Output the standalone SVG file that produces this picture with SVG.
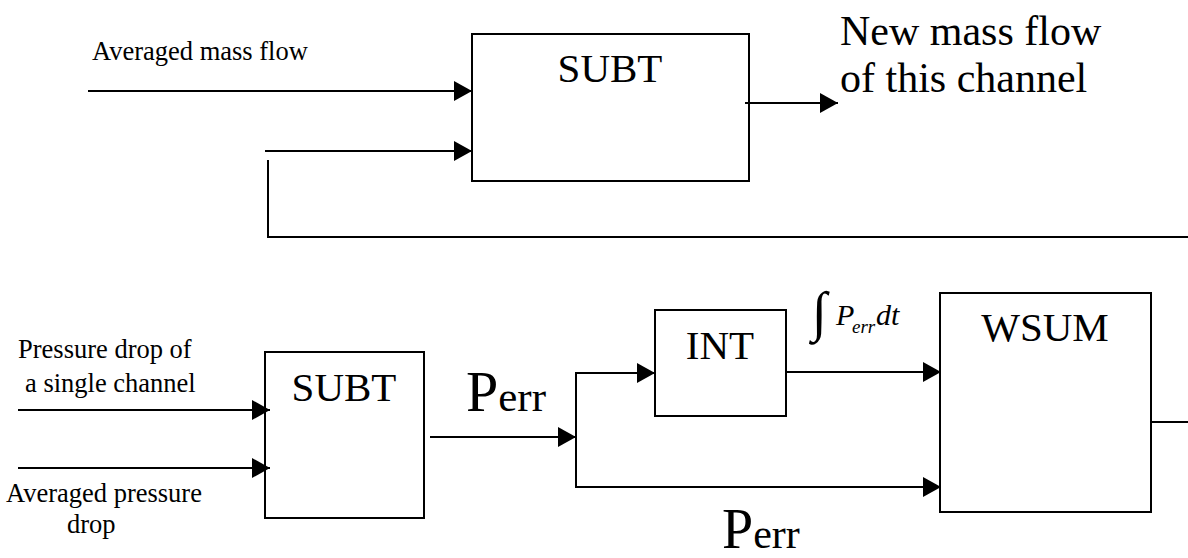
<svg xmlns="http://www.w3.org/2000/svg" width="1188" height="558" viewBox="0 0 1188 558">
  <style>
    .box { fill: #ffffff; stroke: #000000; stroke-width: 2; }
    .wire { fill: none; stroke: #000000; stroke-width: 2; }
    text { font-family: 'Liberation Serif', 'DejaVu Serif', serif; fill: #000000; }
    .small { font-size: 26.5px; }
    .big { font-size: 42px; }
    .block { font-size: 41px; text-anchor: middle; }
    .it { font-style: italic; }
  </style>
  <defs>
    <marker id="arrow" markerUnits="userSpaceOnUse" markerWidth="19" markerHeight="20" refX="18" refY="10" orient="auto">
      <path d="M0,0 L18,10 L0,20 Z" fill="#000000"/>
    </marker>
  </defs>

  <rect width="1188" height="558" fill="#ffffff"/>

  <!-- mass flow correction loop -->
  <g id="subt-mass">
    <rect class="box" x="472" y="34" width="277" height="147"/>
    <text class="block" x="610" y="82">SUBT</text>
  </g>

  <!-- pressure drop comparison -->
  <g id="subt-pressure">
    <rect class="box" x="265" y="352" width="159" height="166"/>
    <text class="block" x="344" y="401">SUBT</text>
  </g>

  <g id="int">
    <rect class="box" x="655" y="310" width="131" height="106"/>
    <text class="block" x="720" y="359">INT</text>
  </g>

  <g id="wsum">
    <rect class="box" x="940" y="293" width="211" height="219"/>
    <text class="block" x="1045" y="341">WSUM</text>
  </g>

  <g id="connectors">
    <!-- top: inputs and output of the mass-flow SUBT -->
    <line class="wire" x1="88" y1="91" x2="472" y2="91" marker-end="url(#arrow)"/>
    <line class="wire" x1="265" y1="151" x2="472" y2="151" marker-end="url(#arrow)"/>
    <polyline class="wire" points="268,160 268,237 1188,237"/>
    <line class="wire" x1="745" y1="103" x2="838" y2="103" marker-end="url(#arrow)"/>

    <!-- bottom: pressure inputs -->
    <line class="wire" x1="18" y1="410" x2="270" y2="410" marker-end="url(#arrow)"/>
    <line class="wire" x1="18" y1="468" x2="270" y2="468" marker-end="url(#arrow)"/>

    <!-- error signal and branches -->
    <line class="wire" x1="430" y1="437" x2="576" y2="437" marker-end="url(#arrow)"/>
    <line class="wire" x1="576" y1="372" x2="576" y2="487"/>
    <line class="wire" x1="575" y1="373" x2="655" y2="373" marker-end="url(#arrow)"/>
    <line class="wire" x1="575" y1="487" x2="941" y2="487" marker-end="url(#arrow)"/>
    <line class="wire" x1="786" y1="372" x2="941" y2="372" marker-end="url(#arrow)"/>
    <line class="wire" x1="1151" y1="422" x2="1188" y2="422"/>
  </g>

  <g id="labels">
    <text class="small" x="92" y="60">Averaged mass flow</text>
    <text class="big" x="840" y="45">New mass flow</text>
    <text class="big" x="840" y="92">of this channel</text>

    <text class="small" x="18" y="358">Pressure drop of</text>
    <text class="small" x="25" y="392">a single channel</text>
    <text class="small" x="6" y="502">Averaged pressure</text>
    <text class="small" x="67" y="533">drop</text>

    <text x="466" y="411" font-size="58">P<tspan font-size="43">err</tspan></text>
    <text x="722" y="548" font-size="56">P<tspan font-size="42">err</tspan></text>

    <text x="812" y="330" font-size="55">∫</text>
    <text class="it" x="836" y="325" font-size="30">P</text>
    <text class="it" x="852" y="333" font-size="19">err</text>
    <text class="it" x="876" y="325" font-size="30">dt</text>
  </g>
</svg>
